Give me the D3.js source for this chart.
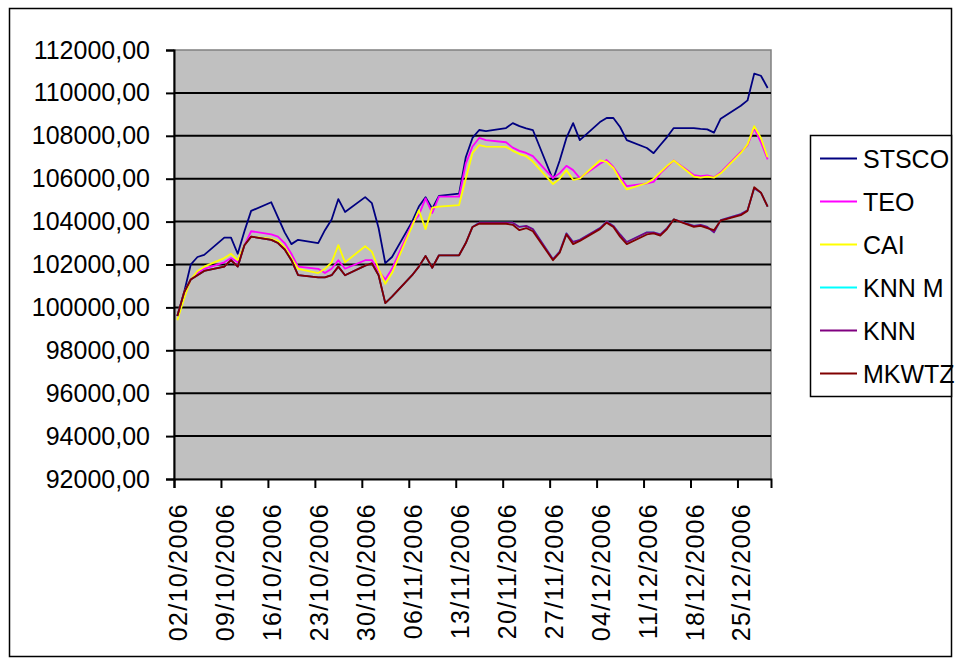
<!DOCTYPE html>
<html>
<head>
<meta charset="utf-8">
<script src="https://cdn.jsdelivr.net/npm/d3@7"></script>
<style>
  body { margin: 0; background: #fff; }
  svg { display: block; }
  text { font-family: "Liberation Sans", Arial, sans-serif; fill: #000; }
</style>
</head>
<body>
<svg id="chart" width="959" height="664"></svg>
<script>
// Trading days, Oct–Dec 2006
const dates = [
  "2006-10-02","2006-10-03","2006-10-04","2006-10-05","2006-10-06",
  "2006-10-09","2006-10-10","2006-10-11","2006-10-12","2006-10-13",
  "2006-10-16","2006-10-17","2006-10-18","2006-10-19","2006-10-20",
  "2006-10-23","2006-10-24","2006-10-25","2006-10-26","2006-10-27",
  "2006-10-30","2006-10-31","2006-11-01","2006-11-02","2006-11-03",
  "2006-11-06","2006-11-07","2006-11-08","2006-11-09","2006-11-10",
  "2006-11-13","2006-11-14","2006-11-15","2006-11-16","2006-11-17",
  "2006-11-20","2006-11-21","2006-11-22","2006-11-23","2006-11-24",
  "2006-11-27","2006-11-28","2006-11-29","2006-11-30","2006-12-01",
  "2006-12-04","2006-12-05","2006-12-06","2006-12-07","2006-12-08",
  "2006-12-11","2006-12-12","2006-12-13","2006-12-14","2006-12-15",
  "2006-12-18","2006-12-19","2006-12-20","2006-12-21","2006-12-22",
  "2006-12-25","2006-12-26","2006-12-27","2006-12-28","2006-12-29"
];

const stsco = [
  99600, 100700, 102000, 102350, 102450,
  103250, 103250, 102500, 103550, 104500,
  104900, 104200, 103500, 102950, 103150,
  103000, 103600, 104100, 105050, 104450,
  105140, 104860, 103700, 102060, 102350,
  104000, 104700, 105140, 104600, 105200,
  105300, 107000, 107900, 108270, 108220,
  108360, 108590, 108450, 108350, 108270,
  105950, 106850, 107900, 108590, 107800,
  108640, 108830, 108830, 108410, 107800,
  107430, 107190, 107570, 107940, 108360,
  108360, 108320, 108300, 108150, 108800,
  109400, 109650, 110900, 110800, 110230
];

const teo = [
  99600, 100500, 101300, 101600, 101800,
  102100, 102300, 102100, 102900, 103550,
  103400, 103300, 103000, 102500, 101900,
  101800, 101600, 101800, 102200, 101800,
  102200, 102200, 101700, 101300, 101800,
  103900, 104300, 105080, 104400, 105160,
  105160, 106700, 107500, 107900, 107800,
  107700, 107450, 107300, 107200, 107050,
  106030, 106260, 106600, 106400, 106030,
  106700, 106870, 106550, 106100, 105650,
  105780, 105850, 106250, 106550, 106850,
  106170, 106120, 106150, 106070, 106300,
  107250, 107550, 108350, 107700, 106900
];

const cai = [
  99400, 100400, 101300, 101700, 101900,
  102300, 102500, 102200, 102900, 103300,
  103200, 103100, 102800, 102300, 101800,
  101600, 101800, 102100, 102900, 102100,
  102850, 102600, 101800, 101100, 101600,
  103800, 104530, 103650, 104650, 104700,
  104770, 106000, 107200, 107570, 107500,
  107480, 107300, 107150, 107050, 106800,
  105750, 106000, 106400, 105950, 106000,
  106850, 106780, 106500, 105950, 105500,
  105800, 106000, 106300, 106600, 106850,
  106100, 106050, 106100, 106050, 106250,
  107200, 107600, 108450, 107900, 107000
];

const knnM = [
  99600, 100700, 101300, 101500, 101700,
  101900, 102200, 101900, 102900, 103300,
  103150, 103000, 102700, 102200, 101500,
  101400, 101400, 101500, 101900, 101500,
  101950, 102050, 101500, 100200, 100500,
  101500, 101900, 102400, 101850, 102430,
  102430, 103000, 103750, 103950, 103950,
  103950, 103950, 103750, 103800, 103650,
  102250, 102600, 103450, 103050, 103150,
  103700, 104000, 103800, 103400, 103050,
  103500, 103500, 103400, 103700, 104100,
  103800, 103850, 103750, 103500, 104070,
  104350, 104530, 105550, 105350, 104700
];

const knn = [
  99600, 100700, 101300, 101500, 101700,
  101900, 102200, 101900, 102900, 103300,
  103150, 103000, 102700, 102200, 101500,
  101400, 101400, 101500, 101900, 101500,
  101950, 102050, 101500, 100200, 100500,
  101500, 101900, 102400, 101850, 102430,
  102430, 103000, 103750, 103950, 103950,
  103950, 103950, 103750, 103800, 103650,
  102250, 102600, 103450, 103050, 103150,
  103700, 104000, 103800, 103400, 103050,
  103500, 103500, 103400, 103700, 104100,
  103800, 103850, 103750, 103500, 104070,
  104350, 104530, 105550, 105350, 104700
];

const mkwtz = [
  99600, 100700, 101300, 101500, 101700,
  101900, 102200, 101900, 102900, 103300,
  103150, 103000, 102700, 102200, 101500,
  101400, 101400, 101500, 101900, 101500,
  101950, 102050, 101500, 100200, 100500,
  101500, 101900, 102400, 101850, 102430,
  102430, 103000, 103750, 103900, 103900,
  103900, 103850, 103600, 103700, 103550,
  102200, 102550, 103400, 102950, 103100,
  103650, 103950, 103750, 103300, 102950,
  103400, 103450, 103350, 103650, 104100,
  103750, 103800, 103700, 103600, 104050,
  104300, 104500, 105600, 105350, 104700
];

const seriesNames  = ["STSCO", "TEO", "CAI", "KNN M", "KNN", "MKWTZ"];
const seriesValues = [stsco, teo, cai, knnM, knn, mkwtz];
const seriesColors = ["#000080", "#ff00ff", "#ffff00", "#00ffff", "#800080", "#800000"];

const yTicks = [92000, 94000, 96000, 98000, 100000, 102000, 104000, 106000, 108000, 110000, 112000];
const xTickLabels = ["02/10/2006", "09/10/2006", "16/10/2006", "23/10/2006", "30/10/2006",
  "06/11/2006", "13/11/2006", "20/11/2006", "27/11/2006", "04/12/2006",
  "11/12/2006", "18/12/2006", "25/12/2006"];

const svg = d3.select("#chart");
const plot = { left: 174, top: 50, right: 771, bottom: 479 };

const parseISO = d3.utcParse("%Y-%m-%d");
const parseLabel = d3.utcParse("%d/%m/%Y");

// Date axis: each day occupies one slot; points sit in the middle of their day
const x = d3.scaleUtc()
  .domain([parseISO("2006-10-02"), parseISO("2006-12-30")])
  .range([plot.left, plot.right]);
const y = d3.scaleLinear().domain([92000, 112000]).range([plot.bottom, plot.top]);
const xMid = d => x(d3.utcHour.offset(d, 12));

// Chart frame
svg.append("rect")
  .attr("x", 9.5).attr("y", 8.5)
  .attr("width", 942).attr("height", 648)
  .attr("fill", "#fff").attr("stroke", "#000").attr("stroke-width", 1.5);

// Plot area
svg.append("rect")
  .attr("x", plot.left).attr("y", plot.top)
  .attr("width", plot.right - plot.left).attr("height", plot.bottom - plot.top)
  .attr("fill", "#c0c0c0").attr("stroke", "#808080").attr("stroke-width", 1.5);

// Horizontal gridlines
svg.append("g").selectAll("line")
  .data(yTicks.filter(v => v > 92000 && v < 112000))
  .join("line")
  .attr("x1", plot.left).attr("x2", plot.right)
  .attr("y1", d => y(d)).attr("y2", d => y(d))
  .attr("stroke", "#000").attr("stroke-width", 2);

// Y axis
const fmtY = v => d3.format(".2f")(v).replace(".", ",");
const yAxis = d3.axisLeft(y).tickValues(yTicks).tickSize(8).tickPadding(16).tickFormat(fmtY);
const gy = svg.append("g").attr("transform", `translate(${plot.left},0)`).call(yAxis);
gy.select(".domain").attr("stroke", "#000").attr("stroke-width", 2);
gy.selectAll(".tick line").attr("stroke", "#000").attr("stroke-width", 2);
gy.selectAll(".tick text")
  .attr("font-size", 25).attr("fill", "#000")
  .attr("font-family", '"Liberation Sans", Arial, sans-serif');

// X axis (weekly ticks)
const xTickDates = xTickLabels.map(parseLabel);
const xAxis = d3.axisBottom(x).tickValues(xTickDates).tickSize(9).tickFormat(d3.utcFormat("%d/%m/%Y"));
const gx = svg.append("g").attr("transform", `translate(0,${plot.bottom})`).call(xAxis);
gx.select(".domain").attr("stroke", "#000").attr("stroke-width", 2);
gx.selectAll(".tick line").attr("stroke", "#000").attr("stroke-width", 2);
gx.selectAll(".tick text")
  .attr("font-size", 25).attr("fill", "#000")
  .attr("font-family", '"Liberation Sans", Arial, sans-serif')
  .attr("letter-spacing", 1.3)
  .attr("text-anchor", "end")
  .attr("transform", "translate(0,24) rotate(-90)")
  .attr("x", 0).attr("y", 0).attr("dy", "0.5em");

// Series lines
const rows = dates.map(parseISO);
const line = d3.line().x((d, i) => xMid(rows[i])).y(d => y(d));
svg.append("g").selectAll("path")
  .data(seriesValues)
  .join("path")
  .attr("d", d => line(d))
  .attr("fill", "none")
  .attr("stroke", (d, i) => seriesColors[i])
  .attr("stroke-width", 1.8)
  .attr("stroke-linejoin", "round");

// Legend
const legend = svg.append("g");
legend.append("rect")
  .attr("x", 810.5).attr("y", 135.5).attr("width", 141).attr("height", 261)
  .attr("fill", "#fff").attr("stroke", "#000").attr("stroke-width", 1.5);
const item = legend.selectAll("g.item")
  .data(seriesNames)
  .join("g").attr("class", "item")
  .attr("transform", (d, i) => `translate(0,${158.5 + i * 43})`);
item.append("line")
  .attr("x1", 820).attr("x2", 857)
  .attr("stroke", (d, i) => seriesColors[i]).attr("stroke-width", 2);
item.append("text")
  .attr("x", 863).attr("dy", "0.36em")
  .attr("font-size", 25)
  .text(d => d);
</script>
</body>
</html>
